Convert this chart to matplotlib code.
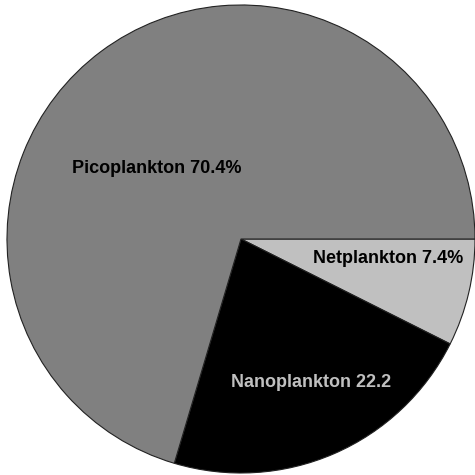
import matplotlib
matplotlib.use("Agg")
import matplotlib.pyplot as plt

# plankton size fractions, clockwise from 3 o'clock
labels = ["Netplankton 7.4%", "Nanoplankton 22.2", "Picoplankton 70.4%"]
shares = [7.4, 22.2, 70.4]
colors = ["#c0c0c0", "#000000", "#808080"]
text_colors = ["#000000", "#c0c0c0", "#000000"]
# label anchors (axes units, pie radius = 1)
label_pos = [(0.63, -0.085), (0.30, -0.615), (-0.36, 0.30)]

plt.rcParams["font.family"] = ["Liberation Sans", "DejaVu Sans"]

fig = plt.figure(figsize=(4.75, 4.75), dpi=100)
ax = fig.add_axes([0.0147, 0.0042, 0.9853, 0.9853])

ax.pie(shares, colors=colors, startangle=0, counterclock=False, radius=1,
       wedgeprops=dict(edgecolor="#222222", linewidth=0.8))

for lab, (x, y), c in zip(labels, label_pos, text_colors):
    ax.text(x, y, lab, ha="center", va="center", fontsize=13,
            fontweight="bold", color=c)

ax.set_xlim(-1, 1)
ax.set_ylim(-1, 1)
ax.set_aspect("equal")
ax.axis("off")

fig.savefig("out.png", dpi=100)
